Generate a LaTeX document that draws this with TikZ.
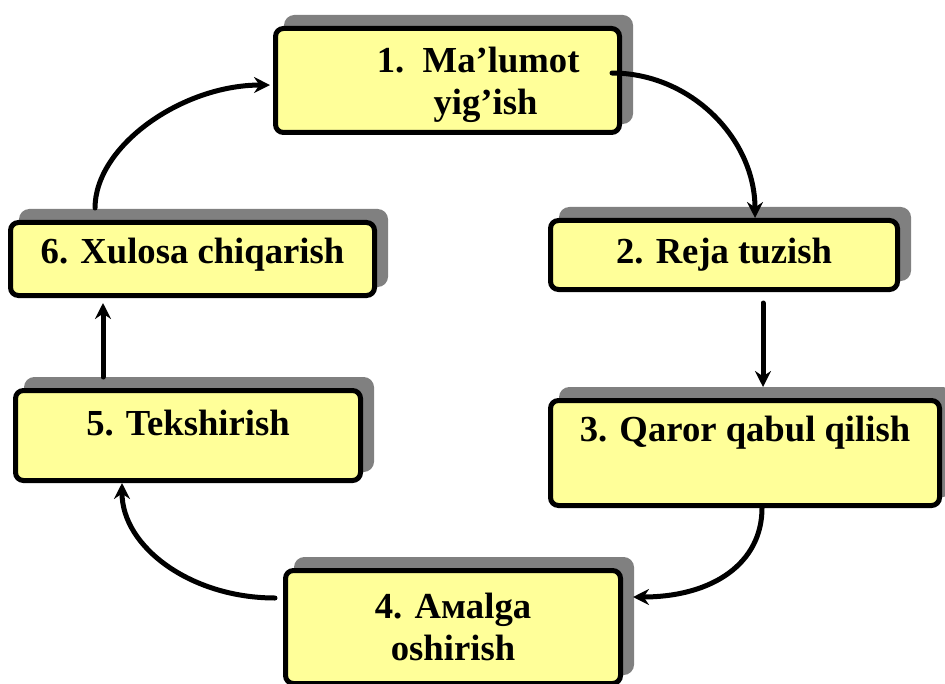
\documentclass[tikz,border=0pt]{standalone}
\usepackage{fontspec}
\setmainfont{Liberation Serif}
\usepackage{xcolor}
\definecolor{stepyellow}{HTML}{FFFF99}
\definecolor{shadowgrey}{HTML}{808080}
\usepackage{tikz}
\usetikzlibrary{arrows.meta,shadows}

\begin{document}
\begin{tikzpicture}[
  x=0.75pt, y=-0.75pt,
  box/.style={draw=black, fill=stepyellow, line width=3.75pt,
              rounded corners=6pt, inner sep=0pt,
              drop shadow={shadow xshift=8.25pt, shadow yshift=8.25pt,
                           fill=shadowgrey, draw=shadowgrey, opacity=1}},
  txt/.style={align=center, inner sep=0pt,
              font=\bfseries\fontsize{27.5}{31.5}\selectfont},
  arr/.style={-{Stealth[length=12pt, width=12pt, inset=4pt]},
              line width=3.75pt, line cap=round}
]
  \clip (0,0) rectangle (945,684);

  % the six steps of the cycle
  \node[box, minimum width=258pt, minimum height=78pt] (collect) at (447.5,80.5) {};
  \node[box, minimum width=260.25pt, minimum height=51.75pt] (plan) at (724,255) {};
  \node[box, minimum width=291.75pt, minimum height=78.75pt] (decide) at (745,453) {};
  \node[box, minimum width=251.25pt, minimum height=84.75pt] (act) at (453,627) {};
  \node[box, minimum width=258.75pt, minimum height=67.5pt] (check) at (188,435.5) {};
  \node[box, minimum width=273pt, minimum height=54.75pt] (conclude) at (192.5,259) {};

  \node[txt] (collect-t) at ([xshift=23pt,yshift=-3.5pt]collect) {1.\ \ Ma’lumot\\\hspace*{0.4em}yig’ish};
  \node[txt] (plan-t) at (plan) {2. Reja tuzish};
  \node[txt] (decide-t) at ([yshift=15pt]decide) {3. Qaror qabul qilish};
  \node[txt] (act-t) at (act) {4. Амalga\\oshirish};
  \node[txt] (check-t) at ([yshift=9.5pt]check) {5. Tekshirish};
  \node[txt] (conclude-t) at ([yshift=3pt]conclude) {6. Xulosa chiqarish};

  % connectors
  \draw[arr] ([xshift=-7.5pt,yshift=5.6pt]collect.east)
    .. controls +(79,0) and +(0,-79) .. ([xshift=23.25pt]plan.north);
  \draw[arr, shorten <=8.25pt, shorten >=8.25pt] ([xshift=29.25pt]plan.south)
    -- ([xshift=29.25pt]plan.south |- decide.north);
  \draw[arr] ([xshift=12.75pt]decide.south)
    .. controls +(0,55) and +(80,0) .. ([xshift=7.5pt,yshift=22.5pt]act.east);
  \draw[arr] ([xshift=-6pt,yshift=21.75pt]act.west)
    .. controls +(-84,0) and +(0,64) .. ([xshift=-49.5pt]check.south);
  \draw[arr, shorten <=8.25pt, shorten >=3.75pt] ([xshift=-63.75pt]check.north)
    -- ([xshift=-63.75pt]check.north |- conclude.south);
  \draw[arr] ([xshift=-73.1pt,yshift=9pt]conclude.north)
    .. controls +(0,-62) and +(-88,0) .. ([xshift=-2.25pt,yshift=-3.4pt]collect.west);
\end{tikzpicture}
\end{document}
